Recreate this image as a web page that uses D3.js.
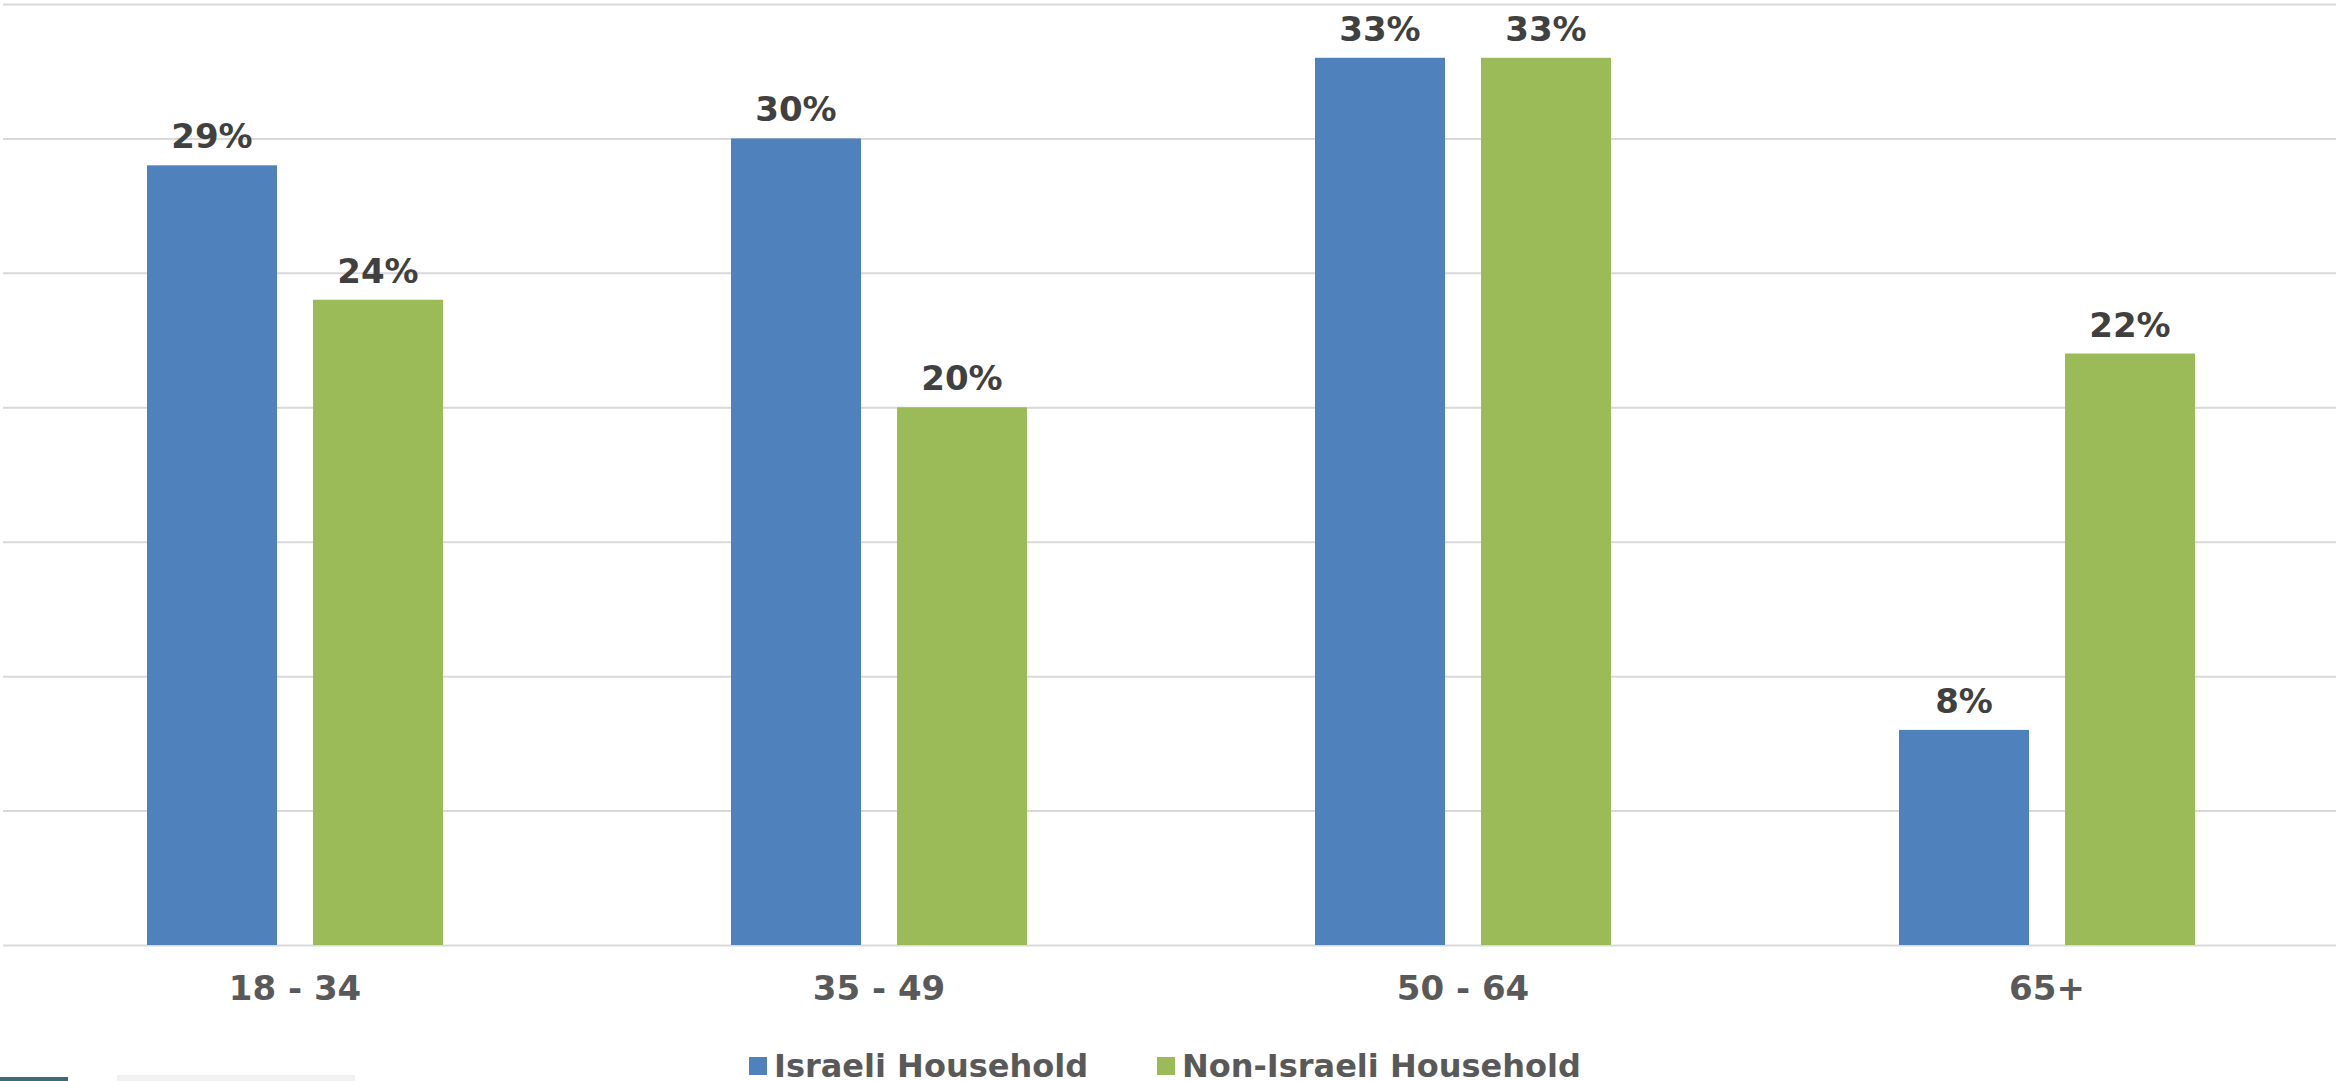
<!DOCTYPE html>
<html>
<head>
<meta charset="utf-8">
<script src="https://cdn.jsdelivr.net/npm/d3@7"></script>
<style>
  html, body { margin: 0; padding: 0; background: #ffffff; overflow: hidden; }
  svg { display: block; }
</style>
</head>
<body>
<svg id="chart" width="2336" height="1081"></svg>
<script>
const categories = ["18 - 34", "35 - 49", "50 - 64", "65+"];
const seriesNames = ["Israeli Household", "Non-Israeli Household"];
const israeliValues = [29, 30, 33, 8];
const nonIsraeliValues = [24, 20, 33, 22];
const yTicks = [0, 5, 10, 15, 20, 25, 30, 35];
const seriesColors = ["#4f81bd", "#9bbb59"];

const W = 2336, H = 1081;
const plotLeft = 3, plotRight = 2339, plotTop = 4, plotBottom = 945;

const svg = d3.select("#chart");

const x0 = d3.scaleBand().domain(categories).range([plotLeft, plotRight]).padding(0);
const x1 = d3.scaleBand().domain(seriesNames).range([0, x0.bandwidth()])
  .paddingInner(0.217).paddingOuter(0.8675);
const y = d3.scaleLinear().domain([0, 35]).range([plotBottom, plotTop]);
const color = d3.scaleOrdinal().domain(seriesNames).range(seriesColors);

// gridlines
const grid = svg.append("g")
  .attr("transform", `translate(${plotLeft},0)`)
  .call(d3.axisLeft(y).tickValues(yTicks).tickSize(-(plotRight - plotLeft)).tickFormat(""));
grid.select(".domain").remove();
grid.selectAll(".tick line").attr("stroke", "#d9d9d9").attr("stroke-width", 2);

const rows = categories.map((c, i) => ({
  cat: c,
  vals: [
    { s: seriesNames[0], v: israeliValues[i] },
    { s: seriesNames[1], v: nonIsraeliValues[i] }
  ]
}));

const groups = svg.append("g").selectAll("g.grp").data(rows).join("g")
  .attr("class", "grp")
  .attr("transform", d => `translate(${x0(d.cat)},0)`);

groups.selectAll("rect").data(d => d.vals).join("rect")
  .attr("x", d => x1(d.s))
  .attr("y", d => y(d.v))
  .attr("width", x1.bandwidth())
  .attr("height", d => y(0) - y(d.v))
  .attr("fill", d => color(d.s));

groups.selectAll("text.val").data(d => d.vals).join("text")
  .attr("class", "val")
  .attr("x", d => x1(d.s) + x1.bandwidth() / 2)
  .attr("y", d => y(d.v) - 17)
  .attr("text-anchor", "middle")
  .attr("font-family", "'DejaVu Sans', Verdana, sans-serif")
  .attr("font-weight", "bold")
  .attr("font-size", 34)
  .attr("fill", "#404040")
  .text(d => d.v + "%");

// x axis labels
const xAxis = svg.append("g")
  .attr("transform", `translate(0,${plotBottom})`)
  .call(d3.axisBottom(x0).tickSize(0).tickPadding(0));
xAxis.select(".domain").remove();
xAxis.selectAll(".tick text")
  .attr("dy", null)
  .attr("y", 55)
  .attr("font-family", "'DejaVu Sans', Verdana, sans-serif")
  .attr("font-weight", "bold")
  .attr("font-size", 34)
  .attr("fill", "#595959");

// legend
const legendX = [749, 1157];
const legend = svg.append("g").selectAll("g").data(seriesNames).join("g")
  .attr("transform", (d, i) => `translate(${legendX[i]},1057)`);
legend.append("rect")
  .attr("width", 18).attr("height", 18)
  .attr("fill", d => color(d));
legend.append("text")
  .attr("x", 25).attr("y", 20)
  .attr("font-family", "'DejaVu Sans', Verdana, sans-serif")
  .attr("font-weight", "bold")
  .attr("font-size", 32)
  .attr("fill", "#595959")
  .text(d => d);

// bottom-left cropped artifact
svg.append("rect").attr("x", 0).attr("y", 1077).attr("width", 68).attr("height", 4).attr("fill", "#3d6b78");
svg.append("rect").attr("x", 117).attr("y", 1075).attr("width", 238).attr("height", 6).attr("fill", "#f1f1f1");
</script>
</body>
</html>
